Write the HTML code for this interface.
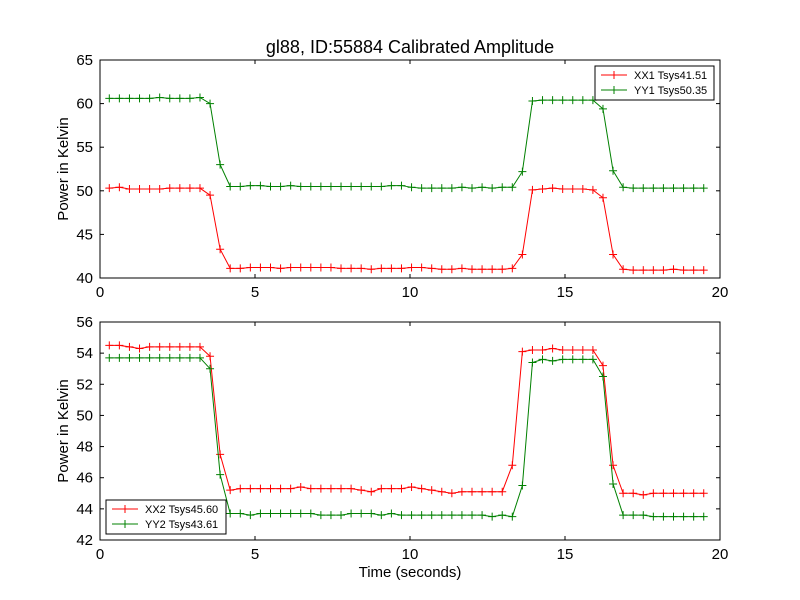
<!DOCTYPE html>
<html><head><meta charset="utf-8"><style>
body{margin:0;background:#fff}
svg{display:block;font-family:"Liberation Sans","DejaVu Sans",sans-serif}
</style></head><body>
<svg id="chart" width="800" height="600" viewBox="0 0 800 600">
<rect width="800" height="600" fill="#fff"/>
<text x="410" y="53" font-size="18" text-anchor="middle">gl88, ID:55884 Calibrated Amplitude</text>
<g id="top"></g>
<g id="bot"></g>
<text x="410" y="577" font-size="15" text-anchor="middle">Time (seconds)</text>
</svg>
<script>
const xx1 = [50.3,50.4,50.2,50.2,50.2,50.2,50.3,50.3,50.3,50.3,49.5,43.3,41.1,41.1,41.2,41.2,41.2,41.1,41.2,41.2,41.2,41.2,41.2,41.1,41.1,41.1,41.0,41.1,41.1,41.1,41.2,41.2,41.1,41.0,41.0,41.1,41.0,41.0,41.0,41.0,41.1,42.7,50.1,50.2,50.3,50.2,50.2,50.2,50.1,49.2,42.7,41.0,40.9,40.9,40.9,40.9,41.0,40.9,40.9,40.9];
const yy1 = [60.6,60.6,60.6,60.6,60.6,60.7,60.6,60.6,60.6,60.7,60.0,53.0,50.5,50.5,50.6,50.6,50.5,50.5,50.6,50.5,50.5,50.5,50.5,50.5,50.5,50.5,50.5,50.5,50.6,50.6,50.4,50.3,50.3,50.3,50.3,50.4,50.3,50.4,50.3,50.4,50.4,52.2,60.3,60.4,60.4,60.4,60.4,60.4,60.4,59.4,52.3,50.4,50.3,50.3,50.3,50.3,50.3,50.3,50.3,50.3];
const xx2 = [54.5,54.5,54.4,54.3,54.4,54.4,54.4,54.4,54.4,54.4,53.8,47.5,45.2,45.3,45.3,45.3,45.3,45.3,45.3,45.4,45.3,45.3,45.3,45.3,45.3,45.2,45.1,45.3,45.3,45.3,45.4,45.3,45.2,45.1,45.0,45.1,45.1,45.1,45.1,45.1,46.8,54.1,54.2,54.2,54.3,54.2,54.2,54.2,54.2,53.2,46.8,45.0,45.0,44.9,45.0,45.0,45.0,45.0,45.0,45.0];
const yy2 = [53.7,53.7,53.7,53.7,53.7,53.7,53.7,53.7,53.7,53.7,53.0,46.2,43.7,43.7,43.6,43.7,43.7,43.7,43.7,43.7,43.7,43.6,43.6,43.6,43.7,43.7,43.7,43.6,43.7,43.6,43.6,43.6,43.6,43.6,43.6,43.6,43.6,43.6,43.5,43.6,43.5,45.5,53.4,53.6,53.5,53.6,53.6,53.6,53.6,52.5,45.6,43.6,43.6,43.6,43.5,43.5,43.5,43.5,43.5,43.5];
const xTicks = [0,5,10,15,20];
const topYTicks = [40,45,50,55,60,65];
const botYTicks = [42,44,46,48,50,52,54,56];
const tStart = 0.3, tStep = 0.325;
const NS='http://www.w3.org/2000/svg';
function mk(tag,attrs,parent){const e=document.createElementNS(NS,tag);for(const k in attrs)e.setAttribute(k,attrs[k]);parent.appendChild(e);return e;}
function panel(g,top,bottom,ymin,ymax,yTicks,series,legendPos){
  const L=100,R=720;
  const sx=v=>L+(v-0)/(20-0)*(R-L);
  const sy=v=>bottom-(v-ymin)/(ymax-ymin)*(bottom-top);
  xTicks.forEach(t=>{
    const x=sx(t);
    let l=mk('line',{x1:x,x2:x,y1:bottom,y2:bottom-4,stroke:'#000'},g);
    
    l=mk('line',{x1:x,x2:x,y1:top,y2:top+4,stroke:'#000'},g);
    
    const tx=mk('text',{x:x,y:bottom+19,'font-size':15,'text-anchor':'middle'},g);tx.textContent=t;
    
  });
  yTicks.forEach(t=>{
    const y=sy(t);
    let l=mk('line',{x1:L,x2:L+4,y1:y,y2:y,stroke:'#000'},g);
    
    l=mk('line',{x1:R,x2:R-4,y1:y,y2:y,stroke:'#000'},g);
    
    const tx=mk('text',{x:L-7,y:y+5,'font-size':15,'text-anchor':'end'},g);tx.textContent=t;
    
  });
  series.forEach(s=>{
    const pts=s.data.map((v,i)=>[sx(tStart+i*tStep),sy(v)]);
    const pl=mk('polyline',{points:pts.map(p=>p.join(',')).join(' '),fill:'none',stroke:s.color,'stroke-width':1},g);
    
    pts.forEach(p=>{
      const m=mk('path',{d:`M${p[0]-4},${p[1]}h8M${p[0]},${p[1]-4}v8`,stroke:s.color,'stroke-width':1},g);
      
    });
  });
  const fr=mk('rect',{x:L,y:top,width:R-L,height:bottom-top,fill:'none',stroke:'#000'},g);
  
  const yt=mk('text',{x:0,y:0,'font-size':15,'text-anchor':'middle',transform:`translate(68,${(top+bottom)/2}) rotate(-90)`},g);
  yt.textContent='Power in Kelvin';
  
  const lg=mk('g',{},g);
  
  const lr=mk('rect',{x:legendPos[0],y:legendPos[1],width:legendPos[2],height:34,fill:'#fff',stroke:'#000'},lg);
  
  series.forEach((s,i)=>{
    const y=legendPos[1]+9+i*15, x=legendPos[0]+6;
    const e=mk('path',{d:`M${x},${y}h26M${x+13-4},${y}h8M${x+13},${y-4}v8`,stroke:s.color},lg);
    
    const t=mk('text',{x:x+33,y:y+4,'font-size':11},lg);t.textContent=s.label;
    
  });
}
panel(document.getElementById('top'),60,278,40,65,topYTicks,
  [{data:xx1,color:'#ff0000',name:'xx1',label:'XX1 Tsys41.51'},{data:yy1,color:'#008000',name:'yy1',label:'YY1 Tsys50.35'}],[595,66,119]);
panel(document.getElementById('bot'),322,540,42,56,botYTicks,
  [{data:xx2,color:'#ff0000',name:'xx2',label:'XX2 Tsys45.60'},{data:yy2,color:'#008000',name:'yy2',label:'YY2 Tsys43.61'}],[106,500,120]);
</script>
</body></html>
